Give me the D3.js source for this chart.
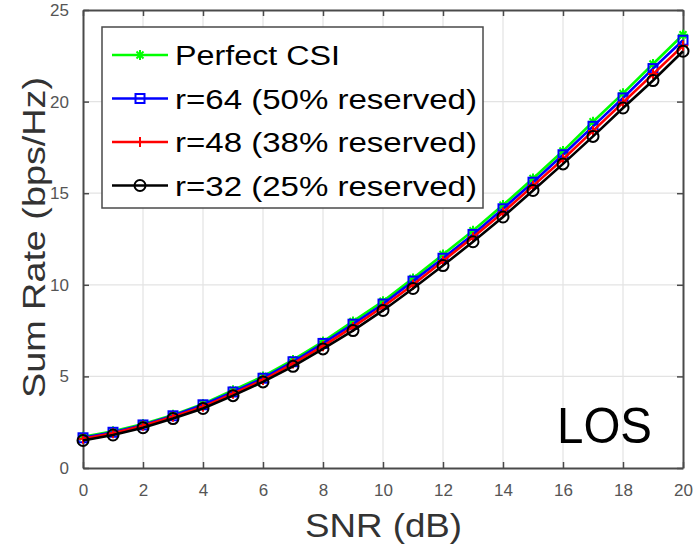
<!DOCTYPE html>
<html>
<head>
<meta charset="utf-8">
<script src="https://cdn.jsdelivr.net/npm/d3@7"></script>
<style>
  html, body { margin: 0; padding: 0; background: #fff; }
  svg { display: block; font-family: "Liberation Sans", Arial, sans-serif; }
</style>
</head>
<body>
<svg id="chart" width="693" height="549"></svg>
<script>
// SNR points (dB)
const snr = [0,1,2,3,4,5,6,7,8,9,10,11,12,13,14,15,16,17,18,19,20];

// Sum rate (bps/Hz) for each scheme
const perfectCSI = [1.7, 2.0, 2.4, 2.9, 3.5, 4.25, 5.0, 5.9, 6.9, 8.0, 9.1, 10.35, 11.65, 12.95, 14.35, 15.8, 17.3, 18.9, 20.45, 22.05, 23.65];
const r64 = [1.65, 1.95, 2.35, 2.85, 3.45, 4.15, 4.9, 5.8, 6.8, 7.85, 8.95, 10.2, 11.45, 12.75, 14.15, 15.6, 17.1, 18.65, 20.2, 21.8, 23.35];
const r48 = [1.6, 1.9, 2.3, 2.8, 3.35, 4.05, 4.8, 5.7, 6.65, 7.7, 8.8, 10.0, 11.3, 12.6, 13.95, 15.4, 16.85, 18.4, 19.95, 21.5, 23.05];
const r32 = [1.5, 1.8, 2.2, 2.7, 3.25, 3.95, 4.7, 5.55, 6.5, 7.5, 8.6, 9.8, 11.05, 12.35, 13.7, 15.15, 16.6, 18.1, 19.65, 21.15, 22.75];

const seriesNames = ["Perfect CSI", "r=64 (50% reserved)", "r=48 (38% reserved)", "r=32 (25% reserved)"];
const seriesColors = ["#00ff00", "#0000ff", "#ff0000", "#000000"];
const seriesMarkers = ["star", "square", "plus", "circle"];
const seriesValues = [perfectCSI, r64, r48, r32];

const xTicks = [0,2,4,6,8,10,12,14,16,18,20];
const yTicks = [0,5,10,15,20,25];

const svg = d3.select("#chart");
const L = 83, R = 683, T = 10, B = 468;
const x = d3.scaleLinear().domain([0, 20]).range([L, R]);
const y = d3.scaleLinear().domain([0, 25]).range([B, T]);

const axisColor = "#4a4a4a";
const gridColor = "#e3e3e3";

// grid
svg.append("g").selectAll("line").data(xTicks.slice(1, -1)).join("line")
  .attr("x1", d => x(d)).attr("x2", d => x(d)).attr("y1", T).attr("y2", B)
  .attr("stroke", gridColor).attr("stroke-width", 1.2);
svg.append("g").selectAll("line").data(yTicks.slice(1, -1)).join("line")
  .attr("y1", d => y(d)).attr("y2", d => y(d)).attr("x1", L).attr("x2", R)
  .attr("stroke", gridColor).attr("stroke-width", 1.2);

// axes (inward ticks on all four sides)
const styleAxis = g => {
  g.select(".domain").attr("stroke", axisColor).attr("stroke-width", 2);
  g.selectAll(".tick line").attr("stroke", axisColor).attr("stroke-width", 1.5);
  g.selectAll(".tick text").attr("fill", "#555").attr("font-size", 17)
    .attr("font-family", "Liberation Sans, Arial, sans-serif");
};
svg.append("g").attr("transform", `translate(0,${B})`)
  .call(d3.axisBottom(x).tickValues(xTicks).tickSizeInner(-6).tickSizeOuter(0).tickPadding(16))
  .call(styleAxis);
svg.append("g").attr("transform", `translate(0,${T})`)
  .call(d3.axisTop(x).tickValues(xTicks).tickSizeInner(-6).tickSizeOuter(0).tickFormat(""))
  .call(styleAxis);
svg.append("g").attr("transform", `translate(${L},0)`)
  .call(d3.axisLeft(y).tickValues(yTicks).tickSizeInner(-6).tickSizeOuter(0).tickPadding(14))
  .call(styleAxis);
svg.append("g").attr("transform", `translate(${R},0)`)
  .call(d3.axisRight(y).tickValues(yTicks).tickSizeInner(-6).tickSizeOuter(0).tickFormat(""))
  .call(styleAxis);

// marker drawing
function drawMarker(g, type, color, cx, cy) {
  const s = 5;
  if (type === "star") {
    const p = d3.path();
    p.moveTo(cx - s, cy); p.lineTo(cx + s, cy);
    p.moveTo(cx, cy - s); p.lineTo(cx, cy + s);
    p.moveTo(cx - s * 0.7, cy - s * 0.7); p.lineTo(cx + s * 0.7, cy + s * 0.7);
    p.moveTo(cx - s * 0.7, cy + s * 0.7); p.lineTo(cx + s * 0.7, cy - s * 0.7);
    g.append("path").attr("d", p.toString()).attr("stroke", color).attr("stroke-width", 2).attr("fill", "none");
  } else if (type === "square") {
    g.append("rect").attr("x", cx - 4.5).attr("y", cy - 4.5).attr("width", 9).attr("height", 9)
      .attr("stroke", color).attr("stroke-width", 2).attr("fill", "none");
  } else if (type === "plus") {
    const p = d3.path();
    p.moveTo(cx - s, cy); p.lineTo(cx + s, cy);
    p.moveTo(cx, cy - s); p.lineTo(cx, cy + s);
    g.append("path").attr("d", p.toString()).attr("stroke", color).attr("stroke-width", 2).attr("fill", "none");
  } else if (type === "circle") {
    g.append("circle").attr("cx", cx).attr("cy", cy).attr("r", 5.5)
      .attr("stroke", color).attr("stroke-width", 2).attr("fill", "none");
  }
}

// series
const line = d3.line().x((d, i) => x(snr[i])).y(d => y(d));
seriesValues.forEach((vals, k) => {
  const g = svg.append("g");
  g.append("path").datum(vals).attr("d", line)
    .attr("fill", "none").attr("stroke", seriesColors[k]).attr("stroke-width", 2.6);
  vals.forEach((v, i) => drawMarker(g, seriesMarkers[k], seriesColors[k], x(snr[i]), y(v)));
});

// stretch a text element to a given length
function fitText(sel, len) {
  sel.attr("textLength", len).attr("lengthAdjust", "spacingAndGlyphs");
  return sel;
}

// legend
const lg = svg.append("g");
lg.append("rect").attr("x", 102).attr("y", 27).attr("width", 381).attr("height", 181)
  .attr("fill", "#fff").attr("stroke", axisColor).attr("stroke-width", 1.5);
const rowY = [55, 98.5, 142, 185.5];
const textLens = [165, 302, 302, 302];
seriesNames.forEach((name, k) => {
  const cy = rowY[k];
  lg.append("line").attr("x1", 112).attr("x2", 168).attr("y1", cy).attr("y2", cy)
    .attr("stroke", seriesColors[k]).attr("stroke-width", 2.6);
  drawMarker(lg, seriesMarkers[k], seriesColors[k], 140, cy);
  fitText(lg.append("text").attr("x", 175).attr("y", cy + 10)
    .attr("font-size", 27).attr("fill", "#000").text(name), textLens[k]);
});

// axis titles
fitText(svg.append("text").attr("x", 383.5).attr("y", 537).attr("text-anchor", "middle")
  .attr("font-size", 33).attr("fill", "#333").text("SNR (dB)"), 157);
fitText(svg.append("text").attr("transform", "translate(45,237.5) rotate(-90)")
  .attr("text-anchor", "middle").attr("font-size", 32).attr("fill", "#333")
  .text("Sum Rate (bps/Hz)"), 321);

// annotation
fitText(svg.append("text").attr("x", 557).attr("y", 443).attr("font-size", 50)
  .attr("fill", "#000").text("LOS"), 95);
</script>
</body>
</html>
